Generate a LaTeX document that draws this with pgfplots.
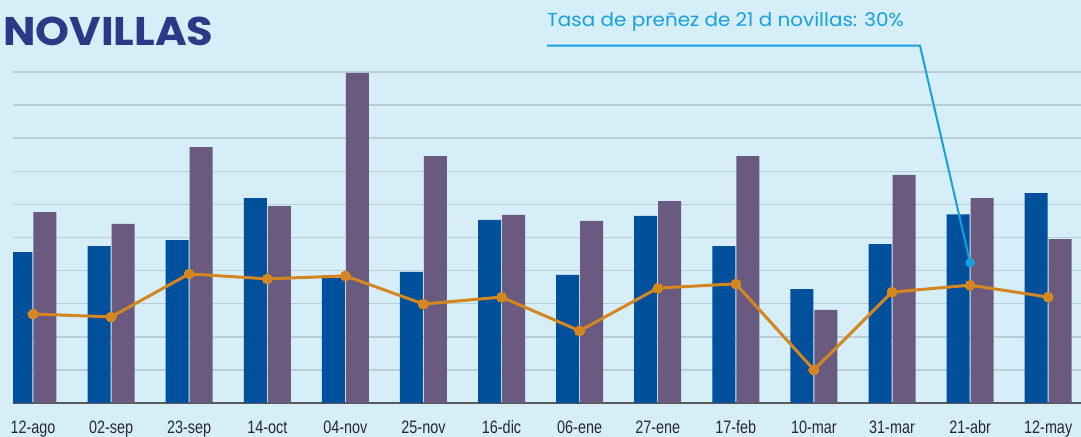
\documentclass[border=0pt]{standalone}
\usepackage{pgfplots}
\pgfplotsset{compat=1.18}
\usepackage{fontspec}
\setmainfont{Liberation Sans}
\newfontfamily\narrowfont[FakeStretch=0.8]{Liberation Sans}
\newfontfamily\popfont[FakeStretch=1.06]{Poppins}
\newfontfamily\poptitle[FakeStretch=1.08]{Poppins}
\definecolor{bg}{RGB}{214,238,248}
\definecolor{barblue}{RGB}{0,80,155}
\definecolor{barpurple}{RGB}{106,90,128}
\definecolor{lineorange}{RGB}{212,134,32}
\definecolor{gridgray}{RGB}{188,204,212}
\definecolor{titleblue}{RGB}{43,57,135}
\definecolor{anncyan}{RGB}{22,160,222}
\definecolor{ticktext}{RGB}{40,40,50}
\begin{document}
\begin{tikzpicture}[x=1bp,y=1bp]
\fill[bg] (0,0) rectangle (1081,437);
\useasboundingbox (0,0) rectangle (1081,437);
\begin{axis}[
  at={(13bp,34bp)}, anchor=south west,
  scale only axis, width=1068bp, height=331bp,
  xmin=-0.256, xmax=13.42, ymin=0, ymax=10,
  axis lines*=left,
  x axis line style={-, draw=black!65, line width=1.5bp},
  y axis line style={-, draw=none},
  xtick={0,...,13},
  xticklabels={12-ago,02-sep,23-sep,14-oct,04-nov,25-nov,16-dic,06-ene,27-ene,17-feb,10-mar,31-mar,21-abr,12-may},
  xticklabel style={font=\narrowfont\fontsize{18bp}{18bp}\selectfont, text=ticktext, anchor=base, yshift=-31bp},
  ytick={0,...,10}, yticklabels={},
  major tick length=0pt,
  ymajorgrids, grid style={draw=gridgray, line width=1.5bp},
]
\addplot[ybar, bar width=23bp, bar shift=-12bp, fill=barblue, draw=none] coordinates {
(0,4.56) (1,4.74) (2,4.92) (3,6.19) (4,3.78) (5,3.96) (6,5.53) (7,3.87) (8,5.65) (9,4.74) (10,3.44) (11,4.80) (12,5.70) (13,6.34)};
\addplot[ybar, bar width=23bp, bar shift=12bp, fill=barpurple, draw=none] coordinates {
(0,5.77) (1,5.41) (2,7.73) (3,5.95) (4,9.97) (5,7.46) (6,5.68) (7,5.50) (8,6.10) (9,7.46) (10,2.81) (11,6.89) (12,6.19) (13,4.95)};
\addplot[color=lineorange, line width=3bp, mark=*, mark size=5bp, mark options={fill=lineorange, draw=lineorange, line width=0pt}] coordinates {
(0,2.69) (1,2.60) (2,3.90) (3,3.75) (4,3.84) (5,2.99) (6,3.20) (7,2.18) (8,3.47) (9,3.60) (10,1.00) (11,3.35) (12,3.56) (13,3.20)};
\addplot[only marks, mark=*, mark size=4.5bp, color=anncyan] coordinates {(12,4.24)};
\coordinate (ann) at (axis cs:12,4.24);
\end{axis}
\draw[anncyan, line width=2bp] (ann) -- (920,391.3) -- (547,391.3);
\node[anchor=base west, inner sep=0pt, text=anncyan, font=\popfont\fontsize{18.8bp}{18.8bp}\selectfont] at (547,410) {Tasa de preñez de 21 d novillas: 30\%};
\node[anchor=base west, inner sep=0pt, text=titleblue, font=\poptitle\bfseries\fontsize{40bp}{40bp}\selectfont] at (3,391) {NOVILLAS};
\end{tikzpicture}
\end{document}
